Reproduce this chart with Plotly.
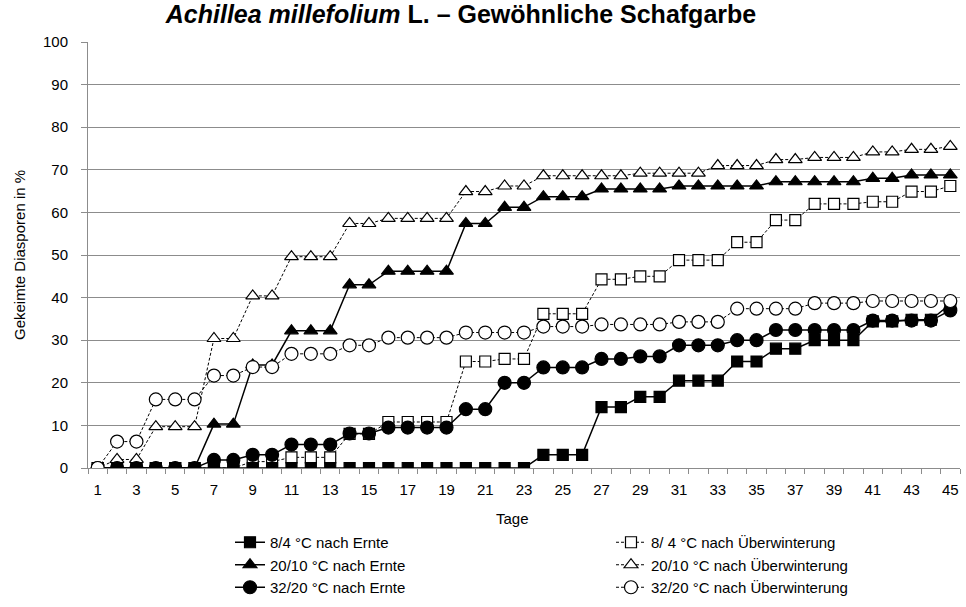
import plotly.graph_objects as go

days = list(range(1, 46))

sq_ernte = [0]*23 + [3.1]*3 + [14.3]*2 + [16.7]*2 + [20.5]*3 + [25]*2 + [28]*2 + [30]*3 + [34.4]*2 + [34.8]*2 + [38.5]
tri_ernte = [0]*6 + [10.3]*2 + [24.2]*2 + [32.2]*3 + [43]*2 + [46.2]*4 + [57.4]*2 + [61.2]*2 + [63.7]*3 + [65.5]*4 + [66.2]*5 + [67.2]*5 + [68]*2 + [68.8]*3
circ_ernte = [0]*6 + [1.9]*2 + [3.1]*2 + [5.5]*3 + [8.1]*2 + [9.5]*4 + [13.8]*2 + [20]*2 + [23.6]*3 + [25.6]*2 + [26.2]*2 + [28.8]*3 + [30]*2 + [32.4]*5 + [34.6]*4 + [37]
sq_ueb = [0]*8 + [1.5]*2 + [2.5]*3 + [8]*2 + [10.8]*4 + [25]*2 + [25.6]*2 + [36.2]*3 + [44.3]*2 + [45]*2 + [48.8]*3 + [53]*2 + [58.2]*2 + [62]*3 + [62.5]*2 + [64.9]*2 + [66.2]
tri_ueb = [0] + [2]*2 + [9.7]*3 + [30.4]*2 + [40.4]*2 + [49.6]*3 + [57.4]*2 + [58.6]*4 + [64.9]*2 + [66.2]*2 + [68.6]*5 + [69.2]*4 + [71]*3 + [72.4]*2 + [72.9]*3 + [74.2]*2 + [74.8]*2 + [75.5]
circ_ueb = [0] + [6.2]*2 + [16.1]*3 + [21.7]*2 + [23.7]*2 + [26.8]*3 + [28.8]*2 + [30.6]*4 + [31.8]*4 + [33.2]*3 + [33.7]*4 + [34.3]*3 + [37.4]*4 + [38.7]*3 + [39.2]*5

names = {
    "sq_ernte": "8/4 °C nach Ernte",
    "tri_ernte": "20/10 °C nach Ernte",
    "circ_ernte": "32/20 °C nach Ernte",
    "sq_ueb": "8/ 4 °C nach Überwinterung",
    "tri_ueb": "20/10 °C nach Überwinterung",
    "circ_ueb": "32/20 °C nach Überwinterung",
}

FONT = "Liberation Sans, Arial, sans-serif"
fig = go.Figure()

def add(y, name, symbol, filled, dashed, legend, rank, size):
    fig.add_trace(go.Scatter(
        x=days, y=y, name=name, mode="lines+markers",
        line=dict(color="black", width=1 if dashed else 1.5, dash="3px,2px" if dashed else "solid"),
        marker=dict(symbol=symbol, size=size,
                    color="black" if filled else "white",
                    line=dict(color="black", width=1.2)),
        legend=legend, legendrank=rank,
    ))

add(sq_ueb, names["sq_ueb"], "square", False, True, "legend2", 1, 11)
add(tri_ueb, names["tri_ueb"], "triangle-up", False, True, "legend2", 2, 12)
add(sq_ernte, names["sq_ernte"], "square", True, False, "legend", 1, 11)
add(tri_ernte, names["tri_ernte"], "triangle-up", True, False, "legend", 2, 12)
add(circ_ernte, names["circ_ernte"], "circle", True, False, "legend", 3, 13)
add(circ_ueb, names["circ_ueb"], "circle", False, True, "legend2", 3, 13)

W, H = 966, 607
L, R, T, B = 88, 6, 42, 139
pw, ph = W - L - R, H - T - B

def px2x(p):
    return (p - L) / pw

def py2y(p):
    return (H - B - p) / ph

odd_days = list(range(1, 46, 2))

fig.update_layout(
    width=W, height=H,
    margin=dict(l=L, r=R, t=T, b=B, autoexpand=False),
    paper_bgcolor="white", plot_bgcolor="white",
    font=dict(family=FONT, size=15, color="black"),
    title=dict(text="<b><i>Achillea millefolium</i> L. – Gewöhnliche Schafgarbe</b>",
               x=461 / W, xanchor="center", y=1 - 14 / H, yanchor="middle",
               font=dict(family=FONT, size=25, color="black")),
    xaxis=dict(range=[0.5, 45.5], tickmode="array", tickvals=odd_days,
               ticktext=[str(d) for d in odd_days], ticks="", showgrid=False,
               showline=True, linecolor="#8c8c8c", linewidth=1, automargin=False,
               minor=dict(ticks="outside", tickmode="linear", tick0=0.5, dtick=1,
                          ticklen=5, tickcolor="#8c8c8c", showgrid=False),
               tickfont=dict(size=15), zeroline=False, ticklabelstandoff=8),
    yaxis=dict(range=[0, 100], dtick=10, showgrid=True, gridcolor="#8c8c8c", gridwidth=1,
               showline=True, linecolor="#8c8c8c", linewidth=1, automargin=False,
               ticks="outside", ticklen=6, tickcolor="#8c8c8c", zeroline=False,
               tickfont=dict(size=15), ticklabelstandoff=10),
    legend=dict(x=px2x(230), xanchor="left", y=py2y(526), yanchor="top",
                orientation="v", font=dict(size=15), traceorder="normal",
                bgcolor="rgba(0,0,0,0)", tracegroupgap=0, itemwidth=30),
    legend2=dict(x=px2x(611), xanchor="left", y=py2y(526), yanchor="top",
                 orientation="v", font=dict(size=15), traceorder="normal",
                 bgcolor="rgba(0,0,0,0)", tracegroupgap=0, itemwidth=30),
    annotations=[
        dict(text="Gekeimte Diasporen in %", xref="paper", yref="paper",
             x=px2x(19), y=py2y(255), xanchor="center", yanchor="middle",
             textangle=-90, showarrow=False, font=dict(size=15)),
        dict(text="Tage", xref="paper", yref="paper",
             x=px2x(512), y=py2y(518), xanchor="center", yanchor="middle",
             showarrow=False, font=dict(size=15)),
    ],
)

fig.write_html("out.html", config={"displayModeBar": False},
               post_script="document.body.style.margin='0';")
